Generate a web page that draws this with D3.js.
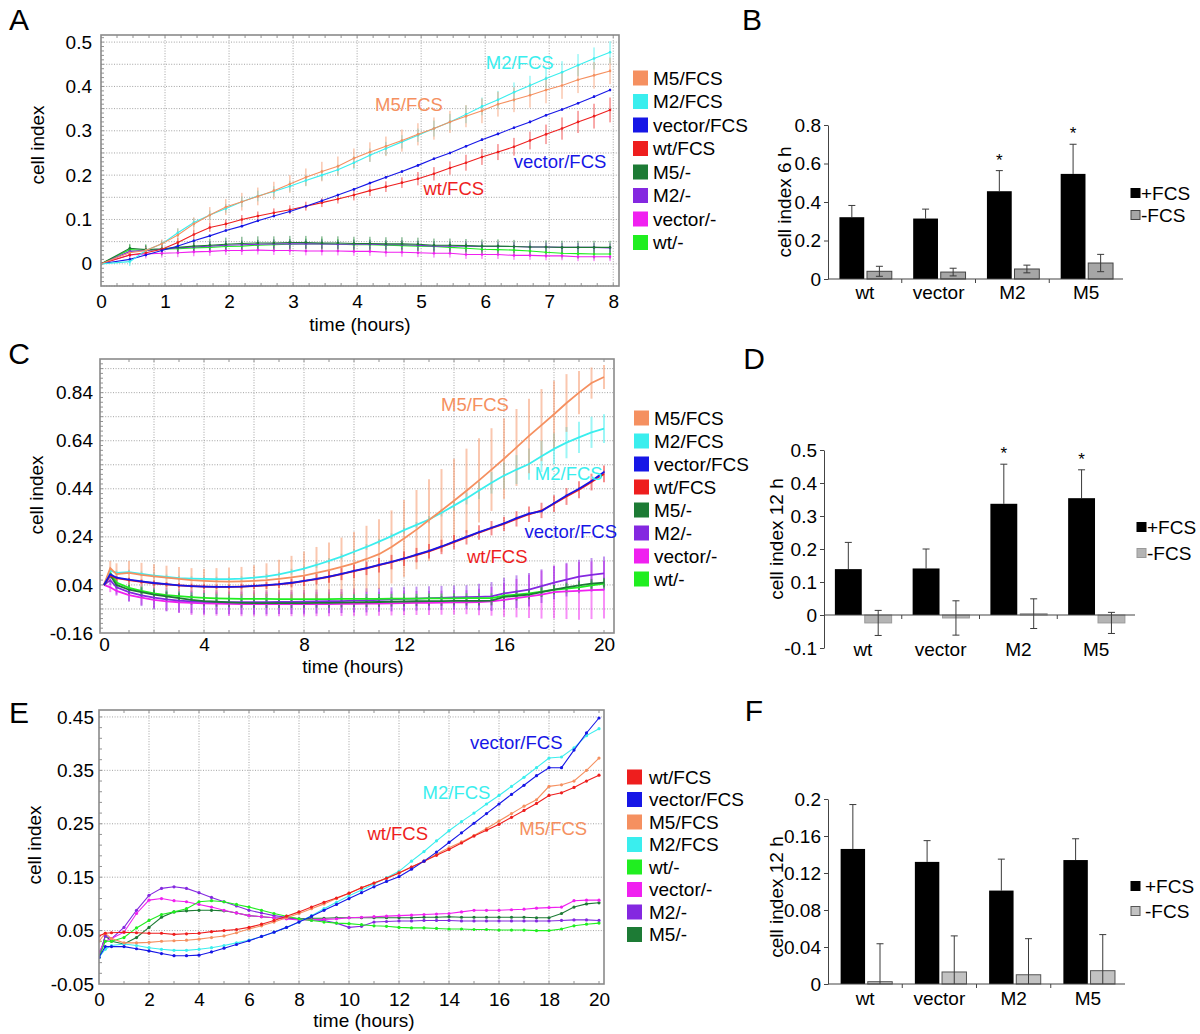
<!DOCTYPE html>
<html><head><meta charset="utf-8">
<script src="https://cdn.jsdelivr.net/npm/d3@7"></script>
<style>body{margin:0;background:#fff}</style>
</head><body><svg id="c" width="1200" height="1034"></svg>
<script>
// ===================== DATA =====================
const legendA = ["M5/FCS","M2/FCS","vector/FCS","wt/FCS","M5/-","M2/-","vector/-","wt/-"];
const legendC = ["M5/FCS","M2/FCS","vector/FCS","wt/FCS","M5/-","M2/-","vector/-","wt/-"];
const legendE = ["wt/FCS","vector/FCS","M5/FCS","M2/FCS","wt/-","vector/-","M2/-","M5/-"];

// Panel A (0-8 h)
const timeA = [0,0.45,0.7,0.95,1.2,1.45,1.7,1.95,2.2,2.45,2.7,2.95,3.2,3.45,3.7,3.95,4.2,4.45,4.7,4.95,5.2,5.45,5.7,5.95,6.2,6.45,6.7,6.95,7.2,7.45,7.7,7.95];
const aM5FCS = [0,0.025,0.03,0.045,0.065,0.09,0.11,0.128,0.14,0.152,0.165,0.18,0.195,0.208,0.22,0.238,0.252,0.265,0.278,0.292,0.305,0.32,0.333,0.345,0.36,0.37,0.38,0.392,0.402,0.415,0.425,0.435];
const aM2FCS = [0,0.005,0.03,0.045,0.07,0.093,0.11,0.125,0.14,0.153,0.163,0.175,0.188,0.2,0.212,0.228,0.245,0.26,0.275,0.29,0.305,0.32,0.337,0.355,0.37,0.387,0.402,0.418,0.432,0.448,0.463,0.477];
const aVecFCS = [0,0.01,0.02,0.03,0.04,0.052,0.063,0.075,0.085,0.097,0.108,0.118,0.13,0.142,0.155,0.168,0.182,0.195,0.208,0.222,0.237,0.25,0.265,0.28,0.293,0.307,0.32,0.335,0.348,0.362,0.377,0.392];
const aWtFCS = [0,0.02,0.025,0.033,0.048,0.066,0.082,0.09,0.1,0.108,0.115,0.122,0.13,0.138,0.146,0.155,0.165,0.174,0.183,0.192,0.203,0.216,0.228,0.241,0.252,0.264,0.278,0.292,0.305,0.32,0.333,0.347];
const aM5Neg = [0,0.035,0.032,0.034,0.037,0.04,0.042,0.044,0.046,0.047,0.047,0.048,0.048,0.047,0.047,0.046,0.046,0.045,0.045,0.044,0.042,0.042,0.041,0.04,0.04,0.039,0.038,0.038,0.037,0.037,0.037,0.037];
const aM2Neg = [0,0.028,0.03,0.033,0.036,0.038,0.04,0.042,0.043,0.044,0.045,0.045,0.045,0.045,0.044,0.044,0.044,0.043,0.043,0.042,0.04,0.04,0.04,0.039,0.039,0.039,0.038,0.038,0.037,0.037,0.037,0.036];
const aVecNeg = [0,0.02,0.022,0.024,0.025,0.027,0.028,0.03,0.03,0.031,0.03,0.03,0.029,0.029,0.029,0.028,0.028,0.026,0.026,0.025,0.024,0.024,0.021,0.021,0.021,0.019,0.019,0.018,0.018,0.016,0.016,0.016];
const aWtNeg = [0,0.032,0.03,0.033,0.034,0.036,0.037,0.039,0.04,0.042,0.043,0.044,0.045,0.045,0.044,0.043,0.043,0.042,0.041,0.04,0.039,0.037,0.035,0.033,0.032,0.031,0.029,0.026,0.024,0.023,0.022,0.022];
const aErrM5FCS = [0,0.005,0.008,0.01,0.015,0.015,0.018,0.018,0.02,0.02,0.02,0.02,0.02,0.022,0.022,0.022,0.022,0.022,0.025,0.025,0.025,0.025,0.025,0.028,0.028,0.028,0.028,0.03,0.03,0.03,0.03,0.03];
const aErrM2FCS = [0,0.01,0.005,0.008,0.01,0.01,0.01,0.01,0.012,0.012,0.012,0.012,0.012,0.012,0.012,0.015,0.015,0.015,0.015,0.015,0.018,0.018,0.02,0.02,0.02,0.022,0.022,0.022,0.025,0.025,0.025,0.025];
const aErrVecFCS = [0,0.003,0.003,0.003,0.003,0.003,0.003,0.003,0.003,0.003,0.003,0.003,0.003,0.003,0.003,0.003,0.003,0.003,0.003,0.003,0.003,0.003,0.003,0.003,0.003,0.003,0.003,0.003,0.003,0.003,0.003,0.003];
const aErrWtFCS = [0,0.005,0.005,0.008,0.01,0.01,0.01,0.01,0.01,0.01,0.01,0.01,0.01,0.01,0.01,0.012,0.012,0.012,0.012,0.015,0.015,0.015,0.018,0.018,0.018,0.02,0.02,0.022,0.025,0.025,0.028,0.028];
const aErrM5Neg = [0,0.01,0.012,0.015,0.015,0.015,0.015,0.015,0.015,0.015,0.015,0.015,0.015,0.015,0.015,0.015,0.015,0.015,0.015,0.015,0.015,0.015,0.015,0.015,0.015,0.015,0.015,0.015,0.015,0.015,0.015,0.015];
const aErrM2Neg = [0,0.008,0.01,0.01,0.01,0.01,0.01,0.01,0.01,0.01,0.01,0.01,0.01,0.01,0.01,0.01,0.01,0.01,0.01,0.01,0.01,0.01,0.01,0.01,0.01,0.01,0.01,0.01,0.01,0.01,0.01,0.01];
const aErrVecNeg = [0,0.008,0.01,0.01,0.01,0.01,0.01,0.01,0.01,0.01,0.01,0.01,0.01,0.01,0.01,0.01,0.01,0.01,0.01,0.01,0.01,0.01,0.01,0.01,0.01,0.01,0.01,0.01,0.01,0.01,0.01,0.01];
const aErrWtNeg = [0,0.01,0.012,0.012,0.012,0.012,0.012,0.012,0.012,0.012,0.012,0.012,0.012,0.012,0.012,0.012,0.012,0.012,0.012,0.012,0.012,0.012,0.012,0.012,0.012,0.012,0.012,0.012,0.012,0.012,0.012,0.012];

// Panel C (0-20 h)
const timeC = [0,0.25,0.5,1,1.5,2,2.5,3,3.5,4,4.5,5,5.5,6,6.5,7,7.5,8,8.5,9,9.5,10,10.5,11,11.5,12,12.5,13,13.5,14,14.5,15,15.5,16,16.5,17,17.5,18,18.5,19,19.5,20];
const cM5FCS = [0.04,0.11,0.085,0.09,0.082,0.076,0.07,0.065,0.06,0.057,0.055,0.054,0.055,0.057,0.06,0.065,0.071,0.079,0.09,0.102,0.115,0.13,0.148,0.168,0.198,0.233,0.27,0.31,0.35,0.39,0.432,0.475,0.52,0.565,0.612,0.66,0.705,0.75,0.797,0.84,0.88,0.905];
const cM2FCS = [0.04,0.1,0.09,0.093,0.086,0.079,0.073,0.068,0.066,0.065,0.064,0.064,0.066,0.07,0.076,0.084,0.095,0.108,0.123,0.14,0.158,0.178,0.198,0.22,0.243,0.268,0.29,0.312,0.34,0.37,0.4,0.433,0.465,0.495,0.52,0.543,0.575,0.606,0.632,0.654,0.675,0.69];
const cVecFCS = [0.04,0.085,0.07,0.062,0.055,0.048,0.043,0.038,0.035,0.033,0.032,0.032,0.033,0.036,0.039,0.043,0.049,0.057,0.065,0.075,0.086,0.098,0.11,0.123,0.136,0.15,0.166,0.182,0.2,0.22,0.24,0.26,0.278,0.296,0.318,0.337,0.347,0.38,0.412,0.44,0.472,0.51];
const cWtFCS = [0.04,0.08,0.068,0.06,0.053,0.047,0.042,0.038,0.035,0.033,0.032,0.032,0.033,0.035,0.038,0.042,0.048,0.056,0.064,0.074,0.085,0.097,0.109,0.122,0.135,0.149,0.164,0.18,0.198,0.218,0.238,0.258,0.276,0.294,0.315,0.334,0.35,0.378,0.408,0.436,0.468,0.502];
const cM5Neg = [0.04,0.08,0.04,0.02,0.01,0,-0.008,-0.015,-0.022,-0.027,-0.03,-0.033,-0.035,-0.036,-0.036,-0.036,-0.036,-0.036,-0.035,-0.035,-0.034,-0.033,-0.032,-0.031,-0.03,-0.029,-0.028,-0.027,-0.027,-0.026,-0.026,-0.026,-0.025,-0.01,-0.005,0,0.01,0.02,0.03,0.038,0.045,0.05];
const cM2Neg = [0.04,0.06,0.03,0.01,-0.003,-0.013,-0.02,-0.025,-0.028,-0.03,-0.031,-0.032,-0.032,-0.032,-0.032,-0.031,-0.031,-0.03,-0.029,-0.028,-0.027,-0.025,-0.024,-0.022,-0.02,-0.018,-0.017,-0.015,-0.014,-0.012,-0.011,-0.01,-0.008,0.005,0.012,0.02,0.035,0.05,0.062,0.075,0.082,0.088];
const cVecNeg = [0.04,0.03,0.015,-0.002,-0.013,-0.022,-0.028,-0.032,-0.035,-0.037,-0.038,-0.039,-0.04,-0.04,-0.04,-0.04,-0.04,-0.04,-0.04,-0.04,-0.039,-0.039,-0.038,-0.038,-0.037,-0.036,-0.035,-0.035,-0.034,-0.033,-0.032,-0.031,-0.028,-0.022,-0.015,-0.008,0,0.01,0.013,0.015,0.018,0.02];
const cWtNeg = [0.04,0.09,0.05,0.028,0.015,0.005,-0.002,-0.007,-0.011,-0.014,-0.016,-0.017,-0.018,-0.018,-0.018,-0.019,-0.019,-0.019,-0.019,-0.019,-0.018,-0.018,-0.018,-0.018,-0.017,-0.017,-0.017,-0.016,-0.016,-0.016,-0.015,-0.015,-0.015,-0.005,0,0.005,0.012,0.02,0.025,0.03,0.038,0.045];
const cErrM5FCS = [0,0.03,0.045,0.05,0.05,0.05,0.05,0.05,0.05,0.05,0.055,0.058,0.06,0.065,0.07,0.08,0.09,0.1,0.108,0.115,0.122,0.13,0.138,0.145,0.152,0.16,0.165,0.17,0.172,0.175,0.175,0.175,0.172,0.168,0.16,0.155,0.15,0.14,0.12,0.09,0.065,0.05];
const cErrM2FCS = [0,0.01,0.01,0.01,0.01,0.01,0.01,0.01,0.01,0.01,0.01,0.01,0.01,0.01,0.01,0.01,0.012,0.012,0.012,0.012,0.012,0.012,0.012,0.012,0.012,0.012,0.012,0.015,0.015,0.02,0.025,0.035,0.045,0.055,0.06,0.065,0.065,0.065,0.065,0.065,0.065,0.06];
const cErrVecFCS = [0,0.005,0.005,0.005,0.005,0.005,0.005,0.005,0.005,0.005,0.005,0.005,0.005,0.005,0.005,0.005,0.005,0.005,0.005,0.005,0.005,0.005,0.005,0.005,0.005,0.005,0.005,0.005,0.005,0.005,0.005,0.005,0.005,0.005,0.005,0.005,0.005,0.005,0.005,0.005,0.005,0.005];
const cErrWtFCS = [0,0.01,0.01,0.01,0.01,0.01,0.01,0.01,0.01,0.01,0.01,0.01,0.012,0.012,0.015,0.015,0.018,0.02,0.022,0.025,0.025,0.028,0.028,0.03,0.03,0.03,0.03,0.03,0.03,0.03,0.03,0.03,0.03,0.03,0.032,0.032,0.032,0.035,0.035,0.035,0.035,0.035];
const cErrM5Neg = [0,0.01,0.015,0.02,0.02,0.02,0.02,0.02,0.02,0.02,0.02,0.02,0.02,0.02,0.02,0.02,0.02,0.02,0.02,0.02,0.02,0.02,0.02,0.02,0.02,0.02,0.02,0.02,0.02,0.02,0.02,0.02,0.02,0.02,0.02,0.02,0.02,0.02,0.02,0.02,0.02,0.02];
const cErrM2Neg = [0,0.02,0.03,0.04,0.045,0.048,0.05,0.05,0.05,0.05,0.05,0.05,0.05,0.05,0.05,0.05,0.05,0.05,0.05,0.05,0.05,0.05,0.05,0.05,0.05,0.05,0.05,0.05,0.05,0.05,0.05,0.055,0.06,0.065,0.068,0.07,0.07,0.07,0.07,0.07,0.07,0.07];
const cErrVecNeg = [0,0.02,0.02,0.025,0.03,0.035,0.04,0.045,0.05,0.05,0.05,0.05,0.05,0.05,0.05,0.05,0.05,0.05,0.05,0.05,0.05,0.05,0.05,0.05,0.05,0.05,0.05,0.05,0.05,0.05,0.05,0.055,0.06,0.07,0.08,0.09,0.1,0.11,0.115,0.12,0.12,0.12];
const cErrWtNeg = [0,0.015,0.02,0.02,0.02,0.02,0.02,0.02,0.02,0.02,0.02,0.02,0.02,0.02,0.02,0.02,0.02,0.02,0.02,0.02,0.02,0.02,0.02,0.02,0.02,0.02,0.02,0.02,0.02,0.02,0.02,0.02,0.02,0.02,0.02,0.02,0.02,0.02,0.02,0.02,0.02,0.02];

// Panel E (0-20 h)
const timeE = [0,0.25,0.5,1,1.5,2,2.5,3,3.5,4,4.5,5,5.5,6,6.5,7,7.5,8,8.5,9,9.5,10,10.5,11,11.5,12,12.5,13,13.5,14,14.5,15,15.5,16,16.5,17,17.5,18,18.5,19,19.5,20];
const eWtFCS = [0.04,0.045,0.046,0.047,0.046,0.045,0.045,0.043,0.044,0.045,0.048,0.05,0.052,0.056,0.062,0.069,0.077,0.085,0.094,0.103,0.111,0.12,0.13,0.139,0.148,0.158,0.169,0.18,0.191,0.202,0.214,0.227,0.238,0.249,0.262,0.275,0.288,0.303,0.308,0.318,0.33,0.341];
const eVecFCS = [0,0.02,0.02,0.02,0.016,0.012,0.007,0.003,0.003,0.004,0.01,0.017,0.024,0.031,0.039,0.047,0.056,0.066,0.077,0.088,0.099,0.11,0.121,0.132,0.142,0.151,0.165,0.18,0.197,0.215,0.233,0.251,0.269,0.287,0.305,0.322,0.34,0.355,0.355,0.388,0.42,0.448];
const eM5FCS = [0.03,0.045,0.035,0.027,0.027,0.028,0.03,0.031,0.032,0.034,0.037,0.04,0.046,0.053,0.059,0.066,0.074,0.082,0.091,0.1,0.11,0.12,0.13,0.139,0.148,0.158,0.169,0.18,0.193,0.205,0.216,0.228,0.241,0.255,0.269,0.283,0.295,0.32,0.323,0.33,0.35,0.373];
const eM2FCS = [0,0.015,0.022,0.025,0.022,0.018,0.015,0.013,0.013,0.015,0.018,0.022,0.027,0.032,0.039,0.047,0.056,0.066,0.078,0.091,0.103,0.115,0.126,0.137,0.149,0.161,0.18,0.198,0.218,0.237,0.254,0.27,0.287,0.303,0.32,0.337,0.355,0.373,0.375,0.392,0.415,0.428];
const eWtNeg = [0,0.03,0.03,0.037,0.055,0.069,0.08,0.085,0.091,0.104,0.106,0.104,0.099,0.094,0.088,0.082,0.077,0.072,0.069,0.066,0.064,0.063,0.061,0.059,0.058,0.056,0.055,0.055,0.054,0.053,0.053,0.052,0.052,0.051,0.051,0.051,0.05,0.05,0.053,0.059,0.062,0.064];
const eVecNeg = [0.01,0.03,0.035,0.047,0.082,0.107,0.11,0.106,0.104,0.099,0.094,0.088,0.083,0.078,0.076,0.074,0.072,0.07,0.07,0.071,0.072,0.074,0.075,0.076,0.077,0.078,0.079,0.08,0.081,0.082,0.085,0.088,0.088,0.088,0.089,0.09,0.092,0.093,0.094,0.106,0.107,0.107];
const eM2Neg = [0,0.04,0.035,0.056,0.088,0.116,0.129,0.132,0.129,0.121,0.112,0.104,0.096,0.088,0.083,0.078,0.075,0.072,0.07,0.069,0.064,0.056,0.058,0.066,0.067,0.068,0.068,0.069,0.069,0.069,0.068,0.068,0.068,0.068,0.068,0.068,0.068,0.068,0.069,0.07,0.07,0.069];
const eM5Neg = [0,0.04,0.03,0.025,0.037,0.056,0.075,0.085,0.087,0.088,0.088,0.087,0.083,0.078,0.076,0.074,0.073,0.072,0.073,0.073,0.074,0.074,0.074,0.074,0.074,0.074,0.074,0.075,0.075,0.076,0.075,0.075,0.075,0.075,0.075,0.075,0.074,0.074,0.082,0.094,0.1,0.102];

// Bar panels
const categories = ["wt","vector","M2","M5"];
const barGroups = ["+FCS","-FCS"];
const bPlus = [0.321,0.314,0.456,0.546];
const bPlusErr = [0.061,0.049,0.107,0.154];
const bMinus = [0.04,0.036,0.052,0.083];
const bMinusErr = [0.026,0.02,0.02,0.045];
const bSig = ["","","*","*"];
const dPlus = [0.139,0.141,0.337,0.354];
const dPlusErr = [0.081,0.059,0.12,0.086];
const dMinus = [-0.024,-0.009,0.004,-0.024];
const dMinusErr = [0.038,0.052,0.045,0.032];
const dSig = ["","","*","*"];
const fPlus = [0.146,0.132,0.101,0.134];
const fPlusErr = [0.048,0.023,0.034,0.023];
const fMinus = [0.0025,0.013,0.01,0.0144];
const fMinusErr = [0.041,0.039,0.039,0.039];

// Tick labels
const ticksAY = [0,0.1,0.2,0.3,0.4,0.5];
const ticksAX = [0,1,2,3,4,5,6,7,8];
const ticksCY = [-0.16,0.04,0.24,0.44,0.64,0.84];
const ticksCX = [0,4,8,12,16,20];
const ticksEY = [-0.05,0.05,0.15,0.25,0.35,0.45];
const ticksEX = [0,2,4,6,8,10,12,14,16,18,20];
const ticksBY = [0,0.2,0.4,0.6,0.8];
const ticksDY = [-0.1,0,0.1,0.2,0.3,0.4,0.5];
const ticksFY = [0,0.04,0.08,0.12,0.16,0.2];

// ===================== STYLE =====================
const FONT = "'Liberation Sans', Arial, Helvetica, sans-serif";
const FS = 19;
const colors = {"M5/FCS":"#f59060","M2/FCS":"#3aeeee","vector/FCS":"#1616e6","wt/FCS":"#ee1e1e",
  "M5/-":"#1d7b35","M2/-":"#8428e0","vector/-":"#f020f0","wt/-":"#20ee20"};
const svg = d3.select("#c");
svg.append("rect").attr("width",1200).attr("height",1034).attr("fill","#fff");

function txt(g, s, x, y, size, opts={}) {
  const t = g.append("text").attr("x",x).attr("y",y).text(s)
    .attr("font-family",FONT).attr("font-size",size)
    .attr("text-anchor",opts.anchor||"middle").attr("dominant-baseline","central")
    .attr("fill",opts.fill||"#000");
  if (opts.rotate) t.attr("transform",`rotate(${opts.rotate},${x},${y})`);
  return t;
}

let clipId = 0;
function linePanel(cfg) {
  const g = svg.append("g");
  const x = d3.scaleLinear().domain(cfg.xDomain).range([cfg.left,cfg.right]);
  const y = d3.scaleLinear().domain(cfg.yDomain).range([cfg.bottom,cfg.top]);
  const id = "clip"+(clipId++);
  g.append("clipPath").attr("id",id).append("rect")
    .attr("x",cfg.left).attr("y",cfg.top).attr("width",cfg.right-cfg.left).attr("height",cfg.bottom-cfg.top);
  g.append("g").selectAll("line").data(cfg.gridY).join("line")
    .attr("x1",cfg.left).attr("x2",cfg.right).attr("y1",d=>y(d)).attr("y2",d=>y(d))
    .attr("stroke","#999").attr("stroke-width",0.9).attr("stroke-dasharray","1,1.6");
  g.append("g").selectAll("line").data(cfg.gridX).join("line")
    .attr("y1",cfg.top).attr("y2",cfg.bottom).attr("x1",d=>x(d)).attr("x2",d=>x(d))
    .attr("stroke","#999").attr("stroke-width",0.9).attr("stroke-dasharray","1,1.6");
  const mt = g.append("g").attr("stroke","#777").attr("stroke-width",0.8);
  mt.selectAll(".my").data(cfg.minorY).join("line")
    .attr("x1",cfg.left).attr("x2",cfg.left+3).attr("y1",d=>y(d)).attr("y2",d=>y(d));
  mt.selectAll(".mxb").data(cfg.minorX).join("line")
    .attr("x1",d=>x(d)).attr("x2",d=>x(d)).attr("y1",cfg.bottom).attr("y2",cfg.bottom-3);
  mt.selectAll(".mxt").data(cfg.minorX).join("line")
    .attr("x1",d=>x(d)).attr("x2",d=>x(d)).attr("y1",cfg.top).attr("y2",cfg.top+3);
  const gd = g.append("g").attr("clip-path",`url(#${id})`);
  const gErr = gd.append("g"), gLine = gd.append("g");
  const line = d3.line().x(d=>x(d.t)).y(d=>y(d.v));
  cfg.series.forEach(s => {
    const col = colors[s.name];
    const pts = s.t.map((t,i)=>({t, v:s.v[i], e:s.e ? s.e[i] : 0}));
    gErr.append("g").selectAll("line").data(pts.filter(p=>p.e>0)).join("line")
      .attr("x1",p=>x(p.t)).attr("x2",p=>x(p.t)).attr("y1",p=>y(p.v-p.e)).attr("y2",p=>y(p.v+p.e))
      .attr("stroke",col).attr("stroke-width",cfg.errW||1).attr("stroke-opacity",cfg.errOpacity);
    gLine.append("path").datum(pts).attr("d",line).attr("fill","none")
      .attr("stroke",col).attr("stroke-width",cfg.lineW);
    if (cfg.markerR > 0) {
      gLine.append("g").selectAll("circle").data(pts).join("circle")
        .attr("cx",p=>x(p.t)).attr("cy",p=>y(p.v)).attr("r",cfg.markerR).attr("fill",col);
    }
  });
  g.append("rect").attr("x",cfg.left).attr("y",cfg.top).attr("width",cfg.right-cfg.left)
    .attr("height",cfg.bottom-cfg.top).attr("fill","none").attr("stroke","#8a8a8a").attr("stroke-width",1.6);
  const ay = g.append("g").attr("transform",`translate(${cfg.left},0)`)
    .call(d3.axisLeft(y).tickValues(cfg.yTicks).tickSize(0).tickPadding(cfg.yPad).tickFormat(d=>String(d)));
  const ax = g.append("g").attr("transform",`translate(0,${cfg.bottom})`)
    .call(d3.axisBottom(x).tickValues(cfg.xTicks).tickSize(0).tickPadding(cfg.xPad).tickFormat(d=>String(d)));
  [ay,ax].forEach(a=>{ a.select(".domain").remove(); a.selectAll("text").attr("font-family",FONT).attr("font-size",FS).attr("fill","#000"); });
  cfg.labels.forEach(l => txt(g, l.name, x(l.t), y(l.v), 18.5, {fill:colors[l.name]}));
  txt(g, "cell index", cfg.yTitle[0], cfg.yTitle[1], FS, {rotate:-90});
  txt(g, "time (hours)", cfg.xTitle[0], cfg.xTitle[1], FS);
  txt(g, cfg.letter, cfg.letterPos[0], cfg.letterPos[1], 30);
  const lg = g.append("g");
  const L = cfg.legend;
  lg.selectAll("rect").data(L.names).join("rect")
    .attr("x",L.x).attr("y",(d,i)=>L.y0+i*L.dy-7.5).attr("width",15).attr("height",15).attr("fill",d=>colors[d]);
  lg.selectAll("text").data(L.names).join("text")
    .attr("x",L.tx).attr("y",(d,i)=>L.y0+i*L.dy).text(d=>d)
    .attr("font-family",FONT).attr("font-size",FS).attr("dominant-baseline","central");
}

function barPanel(cfg) {
  const g = svg.append("g");
  const x = d3.scaleBand().domain(categories).range([cfg.left,cfg.right]);
  const bw = x.bandwidth();
  const xs = d3.scaleBand().domain(barGroups).range([bw*cfg.inner[0], bw*cfg.inner[1]]).paddingInner(0.1);
  const y = d3.scaleLinear().domain(cfg.yDomain).range([cfg.bottom,cfg.top]);
  const rows = categories.map((c,i)=>({c, p:cfg.plus[i], pe:cfg.plusErr[i], m:cfg.minus[i], me:cfg.minusErr[i], s:cfg.sig[i]}));
  const cx = (d,k) => x(d.c)+xs(k)+xs.bandwidth()/2;
  const cap = 3.5;
  const ge = g.append("g").attr("stroke","#3a3a3a").attr("stroke-width",1);
  rows.forEach(d => {
    ge.append("line").attr("x1",cx(d,"+FCS")).attr("x2",cx(d,"+FCS")).attr("y1",y(d.p)).attr("y2",y(d.p+d.pe));
    ge.append("line").attr("x1",cx(d,"+FCS")-cap).attr("x2",cx(d,"+FCS")+cap).attr("y1",y(d.p+d.pe)).attr("y2",y(d.p+d.pe));
  });
  g.append("g").selectAll("rect").data(rows).join("rect")
    .attr("x",d=>x(d.c)+xs("+FCS")).attr("width",xs.bandwidth())
    .attr("y",d=>y(Math.max(0,d.p))).attr("height",d=>Math.abs(y(d.p)-y(0))).attr("fill","#000");
  g.append("g").selectAll("rect").data(rows).join("rect")
    .attr("x",d=>x(d.c)+xs("-FCS")).attr("width",xs.bandwidth())
    .attr("y",d=>y(Math.max(0,d.m))).attr("height",d=>Math.abs(y(d.m)-y(0)))
    .attr("fill",cfg.greyFill).attr("stroke",cfg.greyStroke).attr("stroke-width",1);
  const ge2 = g.append("g").attr("stroke","#3a3a3a").attr("stroke-width",1);
  rows.forEach(d => {
    const lo = cfg.clipLow ? Math.max(cfg.yDomain[0], d.m-d.me) : d.m-d.me;
    const X = cx(d,"-FCS");
    ge2.append("line").attr("x1",X).attr("x2",X).attr("y1",y(lo)).attr("y2",y(d.m+d.me));
    ge2.append("line").attr("x1",X-cap).attr("x2",X+cap).attr("y1",y(d.m+d.me)).attr("y2",y(d.m+d.me));
    if (!cfg.clipLow) ge2.append("line").attr("x1",X-cap).attr("x2",X+cap).attr("y1",y(lo)).attr("y2",y(lo));
  });
  rows.filter(d=>d.s).forEach(d => {
    g.append("text").attr("x",cx(d,"+FCS")).attr("y",y(d.p+d.pe)-5).text(d.s)
      .attr("font-family",FONT).attr("font-size",17).attr("text-anchor","middle");
  });
  const ay = g.append("g").attr("transform",`translate(${cfg.left},0)`)
    .call(d3.axisLeft(y).tickValues(cfg.yTicks).tickSize(4).tickSizeOuter(0).tickPadding(3).tickFormat(d=>String(d)));
  ay.select(".domain").attr("stroke","#444");
  ay.selectAll(".tick line").attr("stroke","#444");
  ay.selectAll("text").attr("font-family",FONT).attr("font-size",FS).attr("fill","#000");
  g.append("line").attr("x1",cfg.left).attr("x2",cfg.right).attr("y1",y(0)).attr("y2",y(0)).attr("stroke","#444").attr("stroke-width",1.2);
  g.append("g").selectAll("line").data(categories.slice(1)).join("line")
    .attr("x1",d=>x(d)).attr("x2",d=>x(d)).attr("y1",y(0)).attr("y2",y(0)+4).attr("stroke","#444");
  g.append("g").selectAll("text").data(categories).join("text")
    .attr("x",d=>x(d)+bw/2).attr("y",cfg.labelY).text(d=>d)
    .attr("font-family",FONT).attr("font-size",FS).attr("text-anchor","middle").attr("dominant-baseline","central");
  txt(g, cfg.yTitle, cfg.yTitlePos[0], cfg.yTitlePos[1], FS, {rotate:-90});
  txt(g, cfg.letter, cfg.letterPos[0], cfg.letterPos[1], 30);
  const fills = ["#000", cfg.greyFill];
  barGroups.forEach((k,i)=>{
    g.append("rect").attr("x",cfg.legend.x).attr("y",cfg.legend.ys[i]-4.5).attr("width",9).attr("height",9)
      .attr("fill",fills[i]).attr("stroke",i===0?"#000":cfg.greyStroke);
    g.append("text").attr("x",cfg.legend.tx).attr("y",cfg.legend.ys[i]).text(k)
      .attr("font-family",FONT).attr("font-size",FS).attr("dominant-baseline","central");
  });
}

// ===================== PANELS =====================
const serA = [
  {name:"wt/-",t:timeA,v:aWtNeg,e:aErrWtNeg},{name:"vector/-",t:timeA,v:aVecNeg,e:aErrVecNeg},
  {name:"M2/-",t:timeA,v:aM2Neg,e:aErrM2Neg},{name:"M5/-",t:timeA,v:aM5Neg,e:aErrM5Neg},
  {name:"wt/FCS",t:timeA,v:aWtFCS,e:aErrWtFCS},{name:"vector/FCS",t:timeA,v:aVecFCS,e:aErrVecFCS},
  {name:"M2/FCS",t:timeA,v:aM2FCS,e:aErrM2FCS},{name:"M5/FCS",t:timeA,v:aM5FCS,e:aErrM5FCS}];
linePanel({left:101,right:619,top:35,bottom:286,xDomain:[0,8.09],yDomain:[-0.05,0.516],
  xTicks:ticksAX,yTicks:ticksAY,gridX:[1,2,3,4,5,6,7,8],
  gridY:[-0.05,0,0.05,0.1,0.15,0.2,0.25,0.3,0.35,0.4,0.45,0.5],
  minorX:d3.range(0.25,8.05,0.25),minorY:d3.range(-0.04,0.515,0.01),
  xPad:9,yPad:9,series:serA,lineW:1.1,markerR:1.3,errOpacity:0.75,
  labels:[{name:"M2/FCS",t:6.54,v:0.455},{name:"M5/FCS",t:4.81,v:0.36},{name:"vector/FCS",t:7.17,v:0.231},{name:"wt/FCS",t:5.51,v:0.17}],
  yTitle:[37,145],xTitle:[360,324],letter:"A",letterPos:[19,19],
  legend:{names:legendA,x:633,tx:653,y0:78,dy:23.5}});

const serC = [
  {name:"vector/-",t:timeC,v:cVecNeg,e:cErrVecNeg},{name:"M2/-",t:timeC,v:cM2Neg,e:cErrM2Neg},
  {name:"wt/-",t:timeC,v:cWtNeg,e:cErrWtNeg},{name:"M5/-",t:timeC,v:cM5Neg,e:cErrM5Neg},
  {name:"M2/FCS",t:timeC,v:cM2FCS,e:cErrM2FCS},{name:"M5/FCS",t:timeC,v:cM5FCS,e:cErrM5FCS},
  {name:"wt/FCS",t:timeC,v:cWtFCS,e:cErrWtFCS},{name:"vector/FCS",t:timeC,v:cVecFCS,e:cErrVecFCS}];
linePanel({left:100,right:614,top:359,bottom:633,xDomain:[-0.16,20.4],yDomain:[-0.16,0.98],
  xTicks:ticksCX,yTicks:ticksCY,gridX:[2,4,6,8,10,12,14,16,18],
  gridY:[-0.06,0.04,0.14,0.24,0.34,0.44,0.54,0.64,0.74,0.84,0.94],
  minorX:d3.range(1,20.5,1),minorY:d3.range(-0.14,0.97,0.02),
  xPad:5,yPad:7,series:serC,lineW:1.8,markerR:0,errOpacity:0.5,errW:2,
  labels:[{name:"M5/FCS",t:14.84,v:0.79},{name:"M2/FCS",t:18.59,v:0.504},{name:"vector/FCS",t:18.67,v:0.264},{name:"wt/FCS",t:15.73,v:0.16}],
  yTitle:[36,495],xTitle:[353,666],letter:"C",letterPos:[19,353],
  legend:{names:legendC,x:634,tx:654,y0:418,dy:23}});

const serE = [
  {name:"M5/-",t:timeE,v:eM5Neg},{name:"M2/-",t:timeE,v:eM2Neg},{name:"vector/-",t:timeE,v:eVecNeg},{name:"wt/-",t:timeE,v:eWtNeg},
  {name:"M2/FCS",t:timeE,v:eM2FCS},{name:"M5/FCS",t:timeE,v:eM5FCS},{name:"wt/FCS",t:timeE,v:eWtFCS},{name:"vector/FCS",t:timeE,v:eVecFCS}];
linePanel({left:99,right:604,top:710,bottom:984,xDomain:[0,20.2],yDomain:[-0.05,0.463],
  xTicks:ticksEX,yTicks:ticksEY,gridX:[2,4,6,8,10,12,14,16,18],
  gridY:[0.05,0.15,0.25,0.35,0.45],
  minorX:d3.range(1,20.1,1),minorY:d3.range(-0.03,0.46,0.02),
  xPad:9,yPad:5,series:serE,lineW:1.1,markerR:1.6,errOpacity:0.6,
  labels:[{name:"vector/FCS",t:16.69,v:0.4015},{name:"M2/FCS",t:14.3,v:0.309},{name:"wt/FCS",t:11.95,v:0.232},{name:"M5/FCS",t:18.17,v:0.242}],
  yTitle:[34,845],xTitle:[364,1020],letter:"E",letterPos:[19,712],
  legend:{names:legendE,x:627,tx:649,y0:777,dy:22.5}});

barPanel({left:828,right:1123,top:125,bottom:279,yDomain:[0,0.8],yTicks:ticksBY,inner:[0.155,0.865],
  plus:bPlus,plusErr:bPlusErr,minus:bMinus,minusErr:bMinusErr,sig:bSig,
  greyFill:"#a6a6a6",greyStroke:"#444",clipLow:false,labelY:292,
  yTitle:"cell index 6 h",yTitlePos:[784,202],letter:"B",letterPos:[752,19],
  legend:{x:1131,tx:1141,ys:[193,215]}});

barPanel({left:824,right:1135,top:450,bottom:648,yDomain:[-0.1,0.5],yTicks:ticksDY,inner:[0.14,0.87],
  plus:dPlus,plusErr:dPlusErr,minus:dMinus,minusErr:dMinusErr,sig:dSig,
  greyFill:"#b4b4b4",greyStroke:"#9a9a9a",clipLow:false,labelY:649,
  yTitle:"cell index 12 h",yTitlePos:[776,539],letter:"D",letterPos:[754,358],
  legend:{x:1137,tx:1147,ys:[527,553]}});

barPanel({left:828,right:1125,top:799,bottom:984,yDomain:[0,0.2],yTicks:ticksFY,inner:[0.17,0.865],
  plus:fPlus,plusErr:fPlusErr,minus:fMinus,minusErr:fMinusErr,sig:["","","",""],
  greyFill:"#c2c2c2",greyStroke:"#555",clipLow:true,labelY:998,
  yTitle:"cell index 12 h",yTitlePos:[776,897],letter:"F",letterPos:[754,710],
  legend:{x:1131,tx:1145,ys:[886,911]}});
</script>
</body></html>
